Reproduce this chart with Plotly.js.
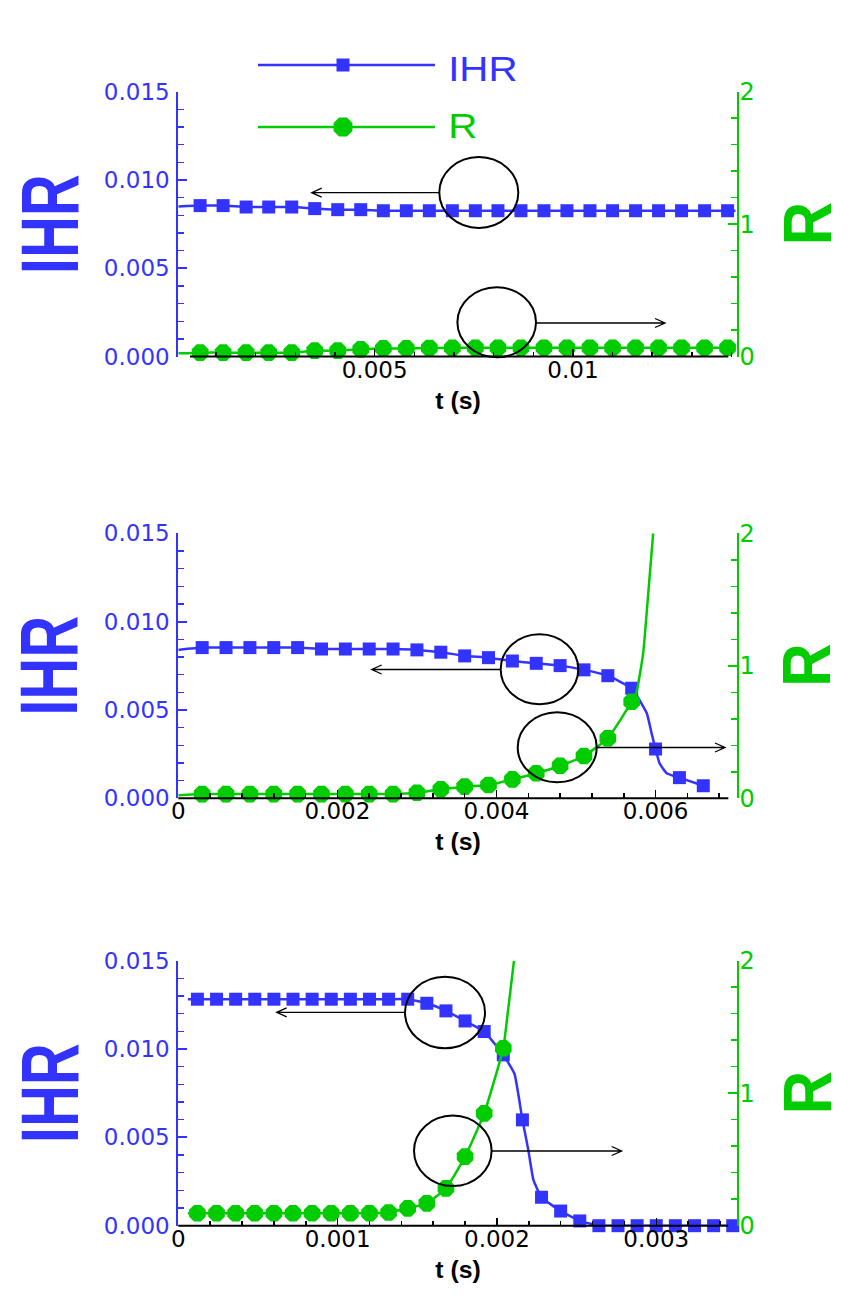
<!DOCTYPE html>
<html>
<head>
<meta charset="utf-8">
<script src="https://cdn.plot.ly/plotly-3.0.1.min.js"></script>
<style>
  html, body { margin: 0; padding: 0; background: #ffffff; }
  #chart { width: 856px; height: 1314px; }
</style>
</head>
<body>
<div id="chart"></div>
<script>
// ---------- Case 1 (top panel) ----------
const t1 = [0.0006, 0.00118, 0.00176, 0.00233, 0.00291, 0.00349, 0.00407, 0.00465,
            0.00522, 0.0058, 0.00638, 0.00696, 0.00754, 0.00811, 0.00869, 0.00927,
            0.00985, 0.01043, 0.011, 0.01158, 0.01216, 0.01274, 0.01332, 0.0139];
const ihr1 = [0.00855, 0.00855, 0.00847, 0.00847, 0.00847, 0.00838, 0.00832, 0.00832,
              0.00826, 0.00826, 0.00826, 0.00826, 0.00826, 0.00826, 0.00826, 0.00826,
              0.00826, 0.00826, 0.00826, 0.00826, 0.00826, 0.00826, 0.00826, 0.00826];
const r1 = [0.03, 0.03, 0.03, 0.03, 0.03, 0.045, 0.045, 0.055,
            0.062, 0.062, 0.065, 0.066, 0.067, 0.067, 0.067, 0.067,
            0.067, 0.067, 0.067, 0.067, 0.067, 0.067, 0.067, 0.067];
// line-only samples (curve ends beyond the marked points)
const t1Ends = [0.00005, 0.0141];
const ihr1Ends = [0.0085, 0.00826];
const r1Ends = [0.025, 0.067];

// ---------- Case 2 (middle panel) ----------
const t2 = [0.0003, 0.0006, 0.0009, 0.0012, 0.0015, 0.0018, 0.0021, 0.0024, 0.0027,
            0.003, 0.0033, 0.0036, 0.0039, 0.0042, 0.0045, 0.0048, 0.0051, 0.0054,
            0.0057, 0.006, 0.0063, 0.0066];
const ihr2 = [0.00853, 0.00853, 0.00853, 0.00853, 0.00853, 0.00845, 0.00845, 0.00845,
              0.00845, 0.0084, 0.00827, 0.00806, 0.00796, 0.00777, 0.00764, 0.00751,
              0.00727, 0.00694, 0.00623, 0.00279, 0.00117, 0.00071];
const r2 = [0.032, 0.032, 0.032, 0.032, 0.032, 0.032, 0.032, 0.032, 0.032,
            0.042, 0.068, 0.088, 0.1, 0.143, 0.189, 0.246, 0.319, 0.453, 0.729];
const t2IhrExtra = [0, 0.00576, 0.00589, 0.00595, 0.00605, 0.00614];
const ihr2Extra = [0.0084, 0.00585, 0.00481, 0.00368, 0.00198, 0.00142];
const t2RExtra = [0, 0.00576, 0.005844, 0.005915, 0.00597];
const r2Extra = [0.023, 0.8, 1.094, 1.597, 2.0];

// ---------- Case 3 (bottom panel) ----------
const t3 = [0.00012, 0.00024, 0.00036, 0.00048, 0.0006, 0.00072, 0.00084, 0.00096,
            0.00108, 0.0012, 0.00132, 0.00144, 0.00156, 0.00168, 0.0018, 0.00192,
            0.00204, 0.00216, 0.00228, 0.0024, 0.00252, 0.00264, 0.00276, 0.00288,
            0.003, 0.00312, 0.00324, 0.00336, 0.00348];
const ihr3 = [0.01282, 0.01282, 0.01282, 0.01282, 0.01282, 0.01282, 0.01282, 0.01282,
              0.01282, 0.01282, 0.01282, 0.01282, 0.01259, 0.01216, 0.01159, 0.01099,
              0.00967, 0.00599, 0.00161, 0.00083, 0.00027, 0, 0, 0,
              0, 0, 0, 0, 0];
const r3 = [0.094, 0.094, 0.094, 0.094, 0.094, 0.094, 0.094, 0.094, 0.094, 0.094,
            0.1, 0.131, 0.169, 0.282, 0.521, 0.848, 1.339];
const t3IhrExtra = [0.00006, 0.00211, 0.002197, 0.002229];
const ihr3Extra = [0.01282, 0.0086, 0.00429, 0.00259];
const t3RExtra = [0.00006, 0.002065, 0.002107];
const r3Extra = [0.094, 1.577, 2.0];

// ---------- axis settings ----------
const xRanges = [[0.00005, 0.01413], [0, 0.00702], [0, 0.003505]];
const xMajor = [0.005, 0.002, 0.001];
const xMinor = [0.001, 0.0004, 0.0002];
const ihrRange = [0, 0.015];
const rRange = [0, 2];

// ---------- page geometry ----------
const W = 856, H = 1314;
const px = x => x / W;
const py = y => 1 - y / H;
const BLUE = '#3333ff';
const GREEN = '#00cc00';
const TICK_FONT = 'DejaVu Sans';
const TITLE_FONT = 'Liberation Sans, Arial, sans-serif';

const xDomain = [px(178.3), px(736.7)];
const panelTops = [91.7, 533.3, 960.7];
const panelBottoms = [356.6, 798.3, 1225.7];

function merge(tA, vA, tB, vB) {
  const pts = tA.map((t, i) => [t, vA[i]]).concat(tB.map((t, i) => [t, vB[i]]));
  pts.sort((a, b) => a[0] - b[0]);
  return { x: pts.map(p => p[0]), y: pts.map(p => p[1]) };
}

const cases = [
  { t: t1, ihr: ihr1, r: r1, ihrLine: merge(t1, ihr1, t1Ends, ihr1Ends), rLine: merge(t1, r1, t1Ends, r1Ends) },
  { t: t2, ihr: ihr2, r: r2, ihrLine: merge(t2, ihr2, t2IhrExtra, ihr2Extra), rLine: merge(t2.slice(0, r2.length), r2, t2RExtra, r2Extra) },
  { t: t3, ihr: ihr3, r: r3, ihrLine: merge(t3, ihr3, t3IhrExtra, ihr3Extra), rLine: merge(t3.slice(0, r3.length), r3, t3RExtra, r3Extra) }
];

const traces = [];
const layout = {
  width: W, height: H,
  margin: { l: 0, r: 0, t: 0, b: 0 },
  paper_bgcolor: '#ffffff',
  plot_bgcolor: 'rgba(0,0,0,0)',
  showlegend: false,
  shapes: [],
  annotations: []
};
// horizontal stretch applied to some labels after drawing: [scale, anchor('center'|'left')]
const stretch = [];
function addNote(note, scale, anchor) {
  layout.annotations.push(note);
  stretch.push([scale || 1, anchor || 'center']);
}

cases.forEach((c, i) => {
  const xa = i === 0 ? 'x' : 'x' + (i + 1);
  const yl = i === 0 ? 'y' : 'y' + (2 * i + 1);
  const yr = 'y' + (2 * i + 2);
  const xKey = i === 0 ? 'xaxis' : 'xaxis' + (i + 1);
  const ylKey = i === 0 ? 'yaxis' : 'yaxis' + (2 * i + 1);
  const yrKey = 'yaxis' + (2 * i + 2);
  const yDomain = [py(panelBottoms[i]), py(panelTops[i])];

  layout[xKey] = {
    domain: xDomain, range: xRanges[i], anchor: yl,
    tickmode: 'linear', tick0: 0, dtick: xMajor[i],
    ticks: 'inside', ticklen: 8, tickwidth: 1.5, tickcolor: '#000000',
    showline: false, showgrid: false, zeroline: false,
    exponentformat: 'none', ticklabelstandoff: -3,
    tickfont: { family: TICK_FONT, size: 23, color: '#000000' },
    minor: { tick0: 0, dtick: xMinor[i], ticks: 'inside', ticklen: 5, tickwidth: 1.5, tickcolor: '#000000', showgrid: false },
    fixedrange: true
  };
  layout[ylKey] = {
    domain: yDomain, range: ihrRange, anchor: xa,
    tickmode: 'linear', tick0: 0, dtick: 0.005, tickformat: '.3f',
    ticks: 'inside', ticklen: 9, tickwidth: 2, tickcolor: BLUE,
    showline: true, linecolor: BLUE, linewidth: 2,
    showgrid: false, zeroline: false, ticklabelstandoff: 2,
    tickfont: { family: TICK_FONT, size: 23, color: BLUE },
    minor: { tick0: 0, dtick: 0.001, ticks: 'inside', ticklen: 6, tickwidth: 1.5, tickcolor: BLUE, showgrid: false },
    fixedrange: true
  };
  layout[yrKey] = {
    domain: yDomain, range: rRange, anchor: xa, overlaying: yl, side: 'right',
    tickmode: 'linear', tick0: 0, dtick: 1,
    ticks: 'inside', ticklen: 9, tickwidth: 2, tickcolor: GREEN,
    showline: true, linecolor: GREEN, linewidth: 2,
    showgrid: false, zeroline: false, ticklabelstandoff: -4,
    tickfont: { family: TICK_FONT, size: 24, color: GREEN },
    minor: { tick0: 0, dtick: 0.2, ticks: 'inside', ticklen: 6, tickwidth: 1.5, tickcolor: GREEN, showgrid: false },
    fixedrange: true
  };

  // IHR curve and its markers (left axis)
  traces.push({ x: c.ihrLine.x, y: c.ihrLine.y, xaxis: xa, yaxis: yl, mode: 'lines',
    line: { color: BLUE, width: 2.5, shape: 'spline', smoothing: 0.4 }, hoverinfo: 'skip' });
  traces.push({ x: c.t, y: c.ihr, xaxis: xa, yaxis: yl, mode: 'markers', cliponaxis: false,
    marker: { symbol: 'square', size: 13, color: BLUE } });
  // R curve and its markers (right axis)
  traces.push({ x: c.rLine.x, y: c.rLine.y, xaxis: xa, yaxis: yr, mode: 'lines',
    line: { color: GREEN, width: 2.5, shape: 'spline', smoothing: 0.4 }, hoverinfo: 'skip' });
  traces.push({ x: c.t.slice(0, c.r.length), y: c.r, xaxis: xa, yaxis: yr, mode: 'markers', cliponaxis: false,
    marker: { symbol: 'octagon', size: 18, color: GREEN } });

  // black time axis line
  layout.shapes.push({ type: 'line', xref: 'paper', yref: yl + ' domain',
    x0: px(i === 0 ? 190 : 178.3), x1: px(728.3), y0: 0, y1: 0,
    line: { color: '#000000', width: 2 }, layer: 'above' });

  // axis titles
  addNote({ text: 't (s)', xref: xa + ' domain', yref: yl + ' domain', x: 0.5, y: 0,
    yshift: -44, yanchor: 'middle', showarrow: false,
    font: { family: TITLE_FONT, size: 23, color: '#000000', weight: 'bold' } }, 1.08, 'center');
  addNote({ text: 'IHR', xref: 'paper', yref: yl + ' domain', x: px(49), y: 0.5,
    textangle: -90, xanchor: 'center', yanchor: 'middle', showarrow: false,
    font: { family: TITLE_FONT, size: 58, color: BLUE, weight: 'bold' } }, 1.4, 'center');
  addNote({ text: 'R', xref: 'paper', yref: yl + ' domain', x: px(807), y: 0.5,
    textangle: -90, xanchor: 'center', yanchor: 'middle', showarrow: false,
    font: { family: TITLE_FONT, size: 60, color: GREEN, weight: 'bold' } }, 1.15, 'center');
});

// ---------- highlight ellipses with pointer arrows ----------
const ellipses = [
  [478.8, 192.5, 39.5, 35.5], [496.7, 322.3, 39.3, 35],
  [539.5, 669.3, 38.8, 35], [557.2, 747.3, 39.5, 35],
  [445, 1012.5, 40, 35.8], [452.8, 1150.8, 38.8, 35.2]
];
ellipses.forEach(e => {
  layout.shapes.push({ type: 'circle', xref: 'paper', yref: 'paper',
    x0: px(e[0] - e[2]), x1: px(e[0] + e[2]), y0: py(e[1] + e[3]), y1: py(e[1] - e[3]),
    line: { color: '#000000', width: 2 }, layer: 'above' });
});
const arrows = [
  [439.3, 311.7, 192.7], [536, 665, 323],
  [500.7, 371.7, 669.5], [596.7, 725, 747.5],
  [405, 276.7, 1012.3], [491.7, 621.7, 1151]
];
arrows.forEach(a => {
  const [xs, xe, y] = a;
  const dir = xe < xs ? 1 : -1;
  const path = `M${px(xs)},${py(y)} L${px(xe)},${py(y)} ` +
               `M${px(xe + dir * 10)},${py(y - 4.5)} L${px(xe)},${py(y)} L${px(xe + dir * 10)},${py(y + 4.5)}`;
  layout.shapes.push({ type: 'path', xref: 'paper', yref: 'paper', path: path,
    line: { color: '#000000', width: 1.3 }, layer: 'above' });
});

// ---------- legend ----------
function octagonPath(cx, cy, rad) {
  let d = '';
  for (let k = 0; k < 8; k++) {
    const a = Math.PI / 8 + k * Math.PI / 4;
    const xx = cx + rad * Math.cos(a), yy = cy + rad * Math.sin(a);
    d += (k === 0 ? 'M' : 'L') + px(xx) + ',' + py(yy) + ' ';
  }
  return d + 'Z';
}
layout.shapes.push({ type: 'line', xref: 'paper', yref: 'paper', x0: px(258), x1: px(435), y0: py(65), y1: py(65),
  line: { color: BLUE, width: 2.5 } });
layout.shapes.push({ type: 'rect', xref: 'paper', yref: 'paper', x0: px(336.5), x1: px(349.5), y0: py(71.5), y1: py(58.5),
  fillcolor: BLUE, line: { width: 0 } });
layout.shapes.push({ type: 'line', xref: 'paper', yref: 'paper', x0: px(258), x1: px(435), y0: py(127), y1: py(127),
  line: { color: GREEN, width: 2.5 } });
layout.shapes.push({ type: 'path', xref: 'paper', yref: 'paper', path: octagonPath(343, 127, 10.2),
  fillcolor: GREEN, line: { width: 0 } });
addNote({ text: 'IHR', xref: 'paper', yref: 'paper', x: px(446), y: py(68),
  xanchor: 'left', yanchor: 'middle', showarrow: false,
  font: { family: TITLE_FONT, size: 36, color: BLUE } }, 1.12, 'left');
addNote({ text: 'R', xref: 'paper', yref: 'paper', x: px(446), y: py(126),
  xanchor: 'left', yanchor: 'middle', showarrow: false,
  font: { family: TITLE_FONT, size: 36, color: GREEN } }, 1.12, 'left');

// widen the heavy label lettering horizontally
function widenLabels(gd) {
  gd.querySelectorAll('g.annotation').forEach(g => {
    const idx = +g.getAttribute('data-index');
    const s = stretch[idx];
    if (!s || s[0] === 1) return;
    const bb = g.getBBox();
    const ox = s[1] === 'left' ? bb.x : bb.x + bb.width / 2;
    g.setAttribute('transform', `translate(${ox},0) scale(${s[0]},1) translate(${-ox},0)`);
  });
}

Plotly.newPlot('chart', traces, layout, { staticPlot: true, displayModeBar: false }).then(widenLabels);
</script>
</body>
</html>
